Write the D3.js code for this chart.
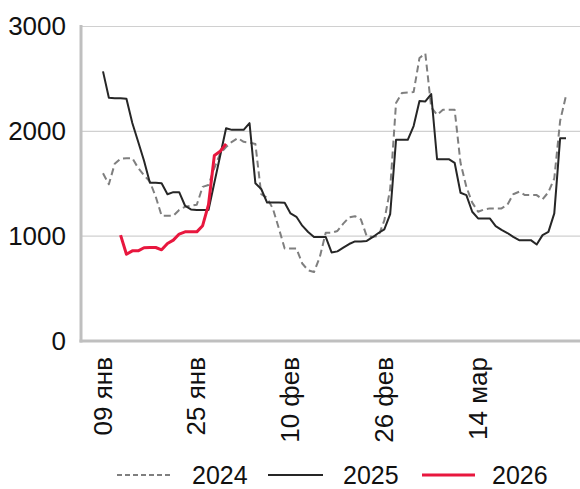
<!DOCTYPE html>
<html>
<head>
<meta charset="utf-8">
<script src="https://cdn.jsdelivr.net/npm/d3@7"></script>
<style>
  html, body { margin: 0; padding: 0; background: #fff; }
  svg text { font-family: "Liberation Sans", Arial, sans-serif; fill: #111; }
</style>
</head>
<body>
<svg id="chart" width="580" height="489"></svg>
<script>
// ---- data ----
const tickDays = [0, 16, 32, 48, 64];
const tickLabels = ["09 янв", "25 янв", "10 фев", "26 фев", "14 мар"];
const yTicks = [0, 1000, 2000, 3000];
const seriesNames = ["2024", "2025", "2026"];

const values2024 = [
  1600,1495,1690,1740,1744,1744,1650,1580,1520,1376,
  1195,1195,1195,1250,1280,1290,1300,1470,1488,1650,
  1790,1850,1900,1935,1900,1893,1880,1400,1365,1260,
  1075,882,882,882,739,675,658,802,1032,1032,
  1050,1120,1180,1191,1160,1000,995,1000,1150,1450,
  2270,2365,2370,2374,2700,2742,2230,2158,2206,2206,
  2206,1700,1470,1320,1233,1255,1265,1265,1265,1300,
  1400,1424,1392,1392,1392,1351,1420,1550,2100,2340
];
const values2025 = [
  2572,2320,2315,2315,2310,2080,1900,1720,1510,1510,
  1505,1400,1420,1420,1290,1255,1250,1250,1250,1510,
  1770,2030,2014,2014,2014,2078,1504,1450,1320,1320,
  1320,1319,1217,1185,1100,1040,993,993,993,845,
  855,890,925,950,950,955,990,1030,1065,1210,
  1919,1919,1919,2050,2290,2285,2356,1734,1734,1734,
  1700,1414,1392,1233,1169,1169,1169,1096,1060,1030,
  993,962,962,962,920,1010,1041,1217,1935,1935
];
const values2026 = [
  null,null,null,1010,828,860,860,890,892,892,
  870,930,962,1020,1041,1041,1041,1100,1300,1770,
  1810,1880
];

const colors = ["#7f7f7f", "#262626", "#e8173e"];
const widths = [2, 2, 3];
const dashes = ["7,4", null, null];

// ---- chart ----
const svg = d3.select("#chart");
const x = d3.scaleLinear().domain([0, 79]).range([103, 566]);
const y = d3.scaleLinear().domain([0, 3000]).range([341, 26.5]);
const plotLeft = 81, plotRight = 580;

// gridlines
svg.append("g").selectAll("line")
  .data(yTicks.filter(d => d > 0))
  .join("line")
  .attr("x1", plotLeft).attr("x2", plotRight)
  .attr("y1", d => y(d)).attr("y2", d => y(d))
  .attr("stroke", "#d0d0d0").attr("stroke-width", 1.2);

// y axis
const yAxis = d3.axisLeft(y).tickValues(yTicks).tickSize(0).tickPadding(15).tickFormat(d3.format("d"));
const gy = svg.append("g").attr("transform", `translate(${plotLeft},0)`).call(yAxis);
gy.select(".domain").remove();
gy.selectAll("text").style("font-size", "26px").attr("fill", "#111");

// x axis
const xAxis = d3.axisBottom(x).tickValues(tickDays).tickSize(0).tickFormat((d, i) => tickLabels[i]);
const gx = svg.append("g").attr("transform", `translate(0,341)`).call(xAxis);
gx.select(".domain").remove();
gx.selectAll("text")
  .style("font-size", "26px")
  .attr("fill", "#111")
  .attr("transform", "rotate(-90)")
  .attr("text-anchor", "end")
  .attr("x", -16)
  .attr("y", -1)
  .attr("dy", "0.35em");

// axis lines
svg.append("line").attr("x1", plotLeft).attr("x2", plotLeft).attr("y1", 25).attr("y2", 342.5)
  .attr("stroke", "#bfbfbf").attr("stroke-width", 3);
svg.append("line").attr("x1", plotLeft - 1.5).attr("x2", plotRight).attr("y1", 341).attr("y2", 341)
  .attr("stroke", "#bfbfbf").attr("stroke-width", 3);

// lines
const line = d3.line()
  .defined(d => d != null)
  .x((d, i) => x(i))
  .y(d => y(d));

const allSeries = [values2024, values2025, values2026];
allSeries.forEach((vals, k) => {
  svg.append("path")
    .datum(vals)
    .attr("fill", "none")
    .attr("stroke", colors[k])
    .attr("stroke-width", widths[k])
    .attr("stroke-dasharray", dashes[k])
    .attr("stroke-linejoin", "round")
    .attr("d", line);
});

// legend
const legendY = 475;
const legendItems = [
  {x1: 117, x2: 170, tx: 192},
  {x1: 268, x2: 323, tx: 343},
  {x1: 422, x2: 475, tx: 492}
];
const lg = svg.append("g");
legendItems.forEach((it, k) => {
  lg.append("line")
    .attr("x1", it.x1).attr("x2", it.x2)
    .attr("y1", legendY).attr("y2", legendY)
    .attr("stroke", colors[k])
    .attr("stroke-width", widths[k])
    .attr("stroke-dasharray", k === 0 ? "5,3" : null);
  lg.append("text")
    .attr("x", it.tx).attr("y", legendY).attr("dy", "0.35em")
    .style("font-size", "25px")
    .text(seriesNames[k]);
});
</script>
</body>
</html>
